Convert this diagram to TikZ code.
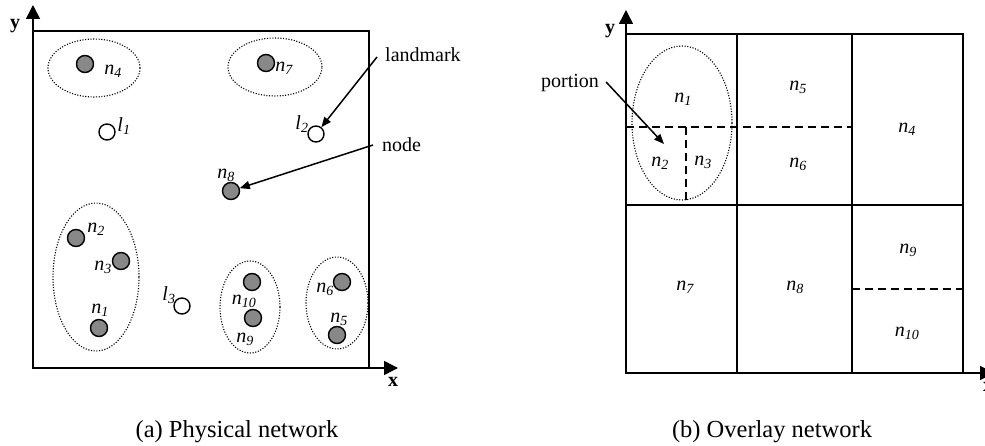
\documentclass[tikz,border=0pt]{standalone}
\usepackage{fontspec}
\usepackage{amsmath}
\setmainfont{Liberation Serif}
\usetikzlibrary{arrows.meta,shapes.geometric}
\definecolor{nodegray}{RGB}{136,136,136}
\newcommand{\nlab}[2]{\textit{#1}$_{\text{\itshape #2}}$}
\begin{document}
\begin{tikzpicture}[x=1pt,y=-1pt,
  every node/.style={font=\fontsize{20}{24}\selectfont},
  gnode/.style={circle,draw,fill=nodegray,line width=1.4pt,minimum size=17pt,inner sep=0pt},
  wnode/.style={circle,draw,fill=white,line width=1.4pt,minimum size=16pt,inner sep=0pt},
  lbl/.style={inner sep=0pt},
  grp/.style={ellipse,draw,line width=1.1pt,dash pattern=on 1.1pt off 1.6pt,inner sep=0pt},
  frame/.style={line width=2pt},
  cell/.style={line width=1.8pt},
  cutline/.style={line width=1.8pt,dash pattern=on 8pt off 5pt},
  axis/.style={line width=1.5pt,-{Triangle[length=14pt,width=14pt]}},
  ptr/.style={line width=1.5pt,-{Triangle[length=10pt,width=8pt]}},
  axlbl/.style={inner sep=0pt,font=\fontsize{20}{22}\selectfont\bfseries},
  captext/.style={inner sep=0pt,font=\fontsize{24.5}{28}\selectfont}]
\useasboundingbox (0,0) rectangle (985,446);
\clip (0,0) rectangle (985,446);
% ---------- (a) physical network ----------
\coordinate (ao) at (33,368);
\coordinate (ay) at (33,5);
\coordinate (ax) at (398,368);
\draw[frame] (33,31) rectangle (369,368);
\draw[axis] (ao) -- (ay);
\draw[axis] (ao) -- (ax);
\node[axlbl] (aylab) at (15,26) {y};
\node[axlbl] (axlab) at (393,382) {x};
% groups
\node[grp,minimum width=92pt,minimum height=58pt] (e4) at (94,68) {};
\node[grp,minimum width=94pt,minimum height=58pt] (e7) at (275,67) {};
\node[grp,minimum width=86pt,minimum height=148pt] (e123) at (96,277) {};
\node[grp,minimum width=60pt,minimum height=92pt] (e910) at (250,307) {};
\node[grp,minimum width=62pt,minimum height=92pt] (e56) at (337,303) {};
% nodes
\node[gnode] (n4) at (85,64) {};
\node[gnode] (n7) at (266,63) {};
\node[gnode] (n8) at (231,191) {};
\node[gnode] (n2) at (76,238) {};
\node[gnode] (n3) at (121,261) {};
\node[gnode] (n1) at (99,328) {};
\node[gnode] (n10) at (252,282) {};
\node[gnode] (n9) at (253,318) {};
\node[gnode] (n6) at (342,282) {};
\node[gnode] (n5) at (337,335) {};
\node[wnode] (l1) at (107,132) {};
\node[wnode] (l2) at (316,134) {};
\node[wnode] (l3) at (182,306) {};
% labels
\node[lbl] (tn4) at (113,71) {\nlab{n}{4}};
\node[lbl] (tn7) at (284,68) {\nlab{n}{7}};
\node[lbl] (tl1) at (124,126) {\nlab{l}{1}};
\node[lbl] (tl2) at (302,124) {\nlab{l}{2}};
\node[lbl] (tn8) at (226,175) {\nlab{n}{8}};
\node[lbl] (tn2) at (96,229) {\nlab{n}{2}};
\node[lbl] (tn3) at (103,267) {\nlab{n}{3}};
\node[lbl] (tn1) at (100,310) {\nlab{n}{1}};
\node[lbl] (tl3) at (169,295) {\nlab{l}{3}};
\node[lbl] (tn10) at (244,301) {\nlab{n}{10}};
\node[lbl] (tn9) at (245,339) {\nlab{n}{9}};
\node[lbl] (tn6) at (325,289) {\nlab{n}{6}};
\node[lbl] (tn5) at (339,319) {\nlab{n}{5}};
\node[lbl,anchor=west] (lmk) at (385,55) {landmark};
\node[lbl,anchor=west] (nde) at (382,145) {node};
\draw[ptr] ([xshift=-8pt,yshift=-2pt]lmk.west) -- (l2);
\draw[ptr] ([xshift=-9pt]nde.west) -- (n8);
\node[captext] (capa) at (237,432) {(a) Physical network};
% ---------- (b) overlay network ----------
\coordinate (bo) at (626,373);
\coordinate (by) at (626,10);
\coordinate (bx) at (994,373);
\draw[cell] (737,34) -- (737,373);
\draw[cell] (852,34) -- (852,373);
\draw[cell] (626,205) -- (963,205);
\draw[cutline] (626,127) -- (852,127);
\draw[cutline] (686,127) -- (686,205);
\draw[cutline] (852,289) -- (963,289);
\draw[line width=2.6pt] (626,34) rectangle (963,373);
\draw[axis] (bo) -- (by);
\draw[axis] (bo) -- (bx);
\node[axlbl] (bylab) at (610,31) {y};
\node[axlbl] (bxlab) at (988,387) {x};
\node[grp,minimum width=100pt,minimum height=154pt] (eo) at (682,123) {};
\node[lbl] (on1) at (683,99) {\nlab{n}{1}};
\node[lbl] (on5) at (798,87) {\nlab{n}{5}};
\node[lbl] (on4) at (907,129) {\nlab{n}{4}};
\node[lbl] (on2) at (660,163) {\nlab{n}{2}};
\node[lbl] (on3) at (703,162) {\nlab{n}{3}};
\node[lbl] (on6) at (798,164) {\nlab{n}{6}};
\node[lbl] (on7) at (685,287) {\nlab{n}{7}};
\node[lbl] (on8) at (795,287) {\nlab{n}{8}};
\node[lbl] (on9) at (908,250) {\nlab{n}{9}};
\node[lbl] (on10) at (907,333) {\nlab{n}{10}};
\node[lbl] (por) at (570,83) {portion};
\coordinate (ptip) at (664,144);
\draw[ptr] ([xshift=7pt,yshift=1pt]por.east) -- (ptip);
\node[captext] (capb) at (772,432) {(b) Overlay network};
\end{tikzpicture}
\end{document}
